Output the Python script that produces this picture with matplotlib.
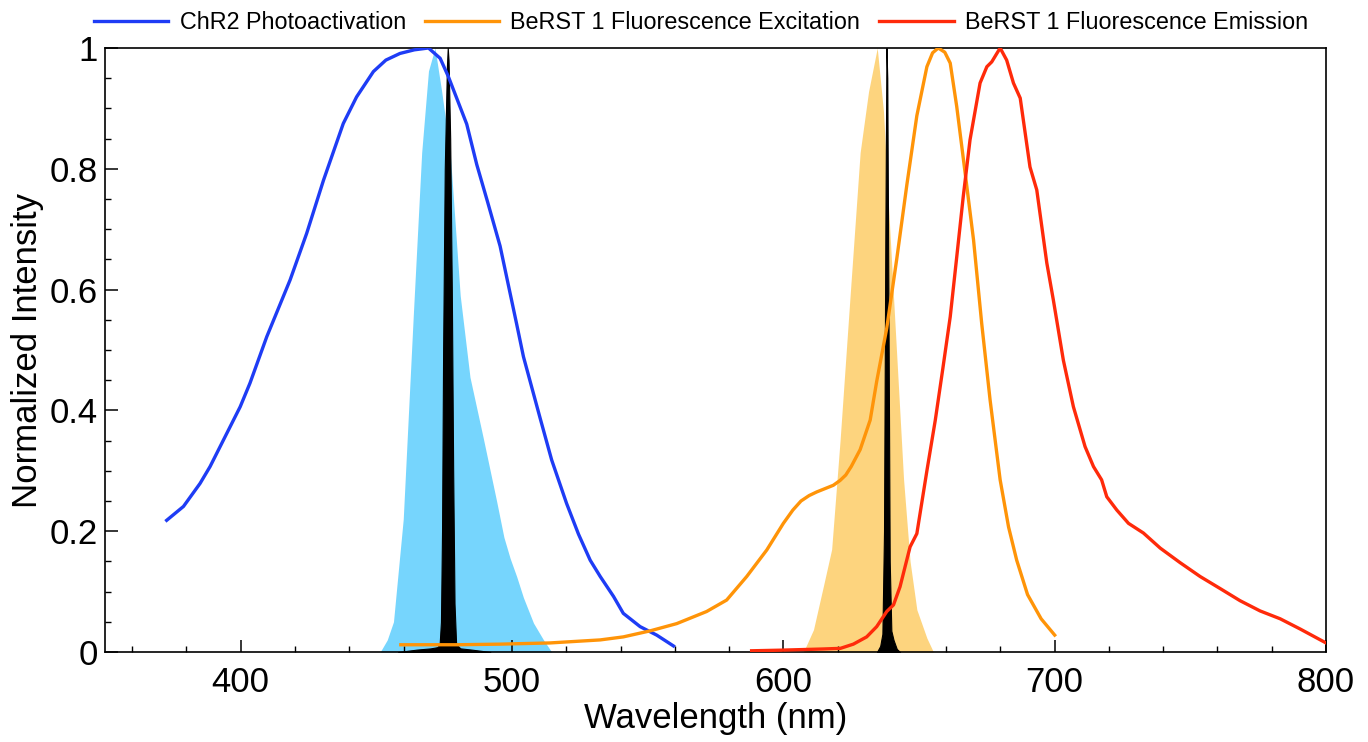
import matplotlib
matplotlib.use("Agg")
import matplotlib.pyplot as plt
from matplotlib.ticker import MultipleLocator

plt.rcParams['font.family'] = ['Liberation Sans', 'DejaVu Sans']

# ChR2 photoactivation
chr2_wl = [372.7, 378.9, 385, 388.7, 392.4, 399.8, 403.4, 409.6, 418.2, 424.3, 430.5, 437.8,
           442.7, 448.9, 453.5, 458.7, 464, 469.2, 473.5, 476.5, 483.3, 487, 491, 495.6,
           499, 501.7, 504.2, 510.3, 514.6, 520.1, 524.5, 528.8, 532.5, 537.4, 541, 547.2,
           553.3, 559.5]
chr2_val = [0.218, 0.241, 0.279, 0.307, 0.34, 0.406, 0.445, 0.522, 0.616, 0.693, 0.781,
            0.875, 0.919, 0.961, 0.98, 0.991, 0.997, 1.0, 0.983, 0.953, 0.874, 0.807,
            0.745, 0.672, 0.60, 0.543, 0.489, 0.388, 0.318, 0.246, 0.195, 0.152, 0.125,
            0.092, 0.064, 0.042, 0.028, 0.01]

# BeRST 1 excitation
exc_wl = [459, 470, 480, 495.6, 514, 532.5, 541, 550.9, 560.7, 571.7, 579.1, 586.5, 593.9,
          600, 603.5, 606.5, 609.5, 612.3, 618.4, 620.9, 623, 625, 628.3, 632, 634.4, 638.1,
          641.8, 645.5, 649.2, 652.9, 655, 657.1, 659.5, 661.5, 663.9, 667, 670.1, 673.1,
          676.2, 679.9, 683, 686, 690, 695, 700]
exc_val = [0.012, 0.012, 0.012, 0.013, 0.015, 0.02, 0.025, 0.035, 0.047, 0.067, 0.086,
           0.125, 0.169, 0.213, 0.235, 0.25, 0.259, 0.265, 0.276, 0.284, 0.293, 0.307,
           0.335, 0.384, 0.448, 0.536, 0.651, 0.773, 0.888, 0.969, 0.992, 1.0, 0.993,
           0.975, 0.903, 0.793, 0.682, 0.544, 0.417, 0.285, 0.207, 0.152, 0.095, 0.055,
           0.028]

# BeRST 1 emission
em_wl = [588.3, 598.8, 607, 614.8, 621, 625.8, 630.7, 634.4, 638.1, 640.6, 643, 646.7,
         649.2, 652.9, 656, 658.8, 661.5, 663.9, 666.3, 668.8, 672.5, 675, 676.8, 679.9,
         682.3, 684.8, 687.3, 690.9, 693.4, 697.1, 699.5, 703.2, 706.9, 711.2, 714.3,
         717.3, 719.2, 722.9, 727.2, 732.7, 738.9, 746.2, 753.6, 761, 768.3, 775.7,
         783.1, 790.5, 800]
em_val = [0.002, 0.003, 0.004, 0.005, 0.006, 0.013, 0.025, 0.042, 0.067, 0.078, 0.108,
          0.174, 0.196, 0.30, 0.384, 0.47, 0.555, 0.654, 0.754, 0.848, 0.942, 0.969,
          0.977, 1.0, 0.98, 0.942, 0.917, 0.803, 0.765, 0.644, 0.583, 0.483, 0.406, 0.34,
          0.307, 0.285, 0.257, 0.235, 0.213, 0.197, 0.172, 0.148, 0.125, 0.105, 0.085,
          0.068, 0.055, 0.038, 0.015]

# Blue LED spectrum (filled)
led_b_wl = [451.4, 454, 456.3, 459.9, 463.6, 466.7, 469.2, 471.6, 474, 477.2, 480.9, 484.5,
            489.4, 494.3, 497, 499.3, 501.7, 504.2, 507.9, 511.6, 514.6]
led_b_val = [0.0, 0.02, 0.05, 0.22, 0.557, 0.827, 0.962, 1.0, 0.93, 0.827, 0.59, 0.455,
             0.354, 0.25, 0.19, 0.155, 0.125, 0.09, 0.048, 0.02, 0.0]

# Red LED spectrum (filled)
led_r_wl = [607.4, 611.1, 614.8, 617.8, 620.9, 624.6, 628.3, 631.4, 634.6, 636.9, 639.3,
            641.8, 644.3, 646.7, 649.2, 652.9, 655.3]
led_r_val = [0.0, 0.037, 0.11, 0.17, 0.35, 0.59, 0.827, 0.928, 1.0, 0.895, 0.693, 0.49,
             0.286, 0.15, 0.07, 0.023, 0.0]

# Laser lines (black)
las_b_wl = [458, 465, 470, 472.5, 473.3, 473.8, 474.2, 474.6, 475.2, 476.0, 476.3, 476.6,
            477.2, 477.8, 478.3, 478.8, 479.4, 481, 485, 492]
las_b_val = [0.0, 0.004, 0.006, 0.008, 0.012, 0.05, 0.2, 0.5, 0.8, 0.97, 1.0, 0.98, 0.85,
             0.6, 0.3, 0.08, 0.012, 0.006, 0.004, 0.0]
las_r_wl = [634.5, 635.7, 636.5, 637.1, 637.6, 638.0, 638.3, 638.7, 639.2, 639.8, 640.6,
            641.8, 643]
las_r_val = [0.0, 0.01, 0.03, 0.2, 0.7, 1.0, 0.95, 0.6, 0.15, 0.035, 0.02, 0.005, 0.0]

x_ticks = [400, 500, 600, 700, 800]
y_ticks = [0, 0.2, 0.4, 0.6, 0.8, 1.0]
y_tick_labels = ['0', '0.2', '0.4', '0.6', '0.8', '1']

fig = plt.figure(figsize=(13.68, 7.42), dpi=100)
ax = fig.add_axes([0.0768, 0.1213, 0.8925, 0.814])

ax.fill_between(led_b_wl, led_b_val, 0, color='#76d5fd', lw=0, zorder=1)
ax.fill_between(led_r_wl, led_r_val, 0, color='#fdd47e', lw=0, zorder=1)
ax.fill_between(las_b_wl, las_b_val, 0, color='black', lw=0.8, edgecolor='black', zorder=2)
ax.fill_between(las_r_wl, las_r_val, 0, color='black', lw=0.8, edgecolor='black', zorder=2)

ax.plot(chr2_wl, chr2_val, color='#1e3cf5', lw=2.4, label='ChR2 Photoactivation', zorder=3)
ax.plot(exc_wl, exc_val, color='#ff9408', lw=2.4, label='BeRST 1 Fluorescence Excitation', zorder=3)
ax.plot(em_wl, em_val, color='#ff2a0a', lw=2.4, label='BeRST 1 Fluorescence Emission', zorder=3)

ax.set_xlim(350, 800)
ax.set_ylim(0, 1)
ax.set_xticks(x_ticks)
ax.xaxis.set_minor_locator(MultipleLocator(20))
ax.set_yticks(y_ticks)
ax.set_yticklabels(y_tick_labels)
ax.yaxis.set_minor_locator(MultipleLocator(0.05))
ax.tick_params(which='major', direction='in', length=9, width=1.1, labelsize=25)
ax.tick_params(axis='x', which='major', pad=10)
ax.tick_params(axis='y', which='major', pad=5)
ax.tick_params(which='minor', direction='in', length=4, width=1.0)
ax.tick_params(top=False, right=False, which='both')
for s in ax.spines.values():
    s.set_linewidth(1.2)

ax.set_xlabel('Wavelength (nm)', fontsize=25, labelpad=2)
ax.set_ylabel('Normalized Intensity', fontsize=25, labelpad=4)

ax.legend(loc='lower center', bbox_to_anchor=(0.488, 1.008), ncol=3, frameon=False,
          fontsize=16.8, handlelength=3.2, columnspacing=0.8, handletextpad=0.48,
          borderaxespad=0.0)

fig.savefig('out.png', dpi=100)
